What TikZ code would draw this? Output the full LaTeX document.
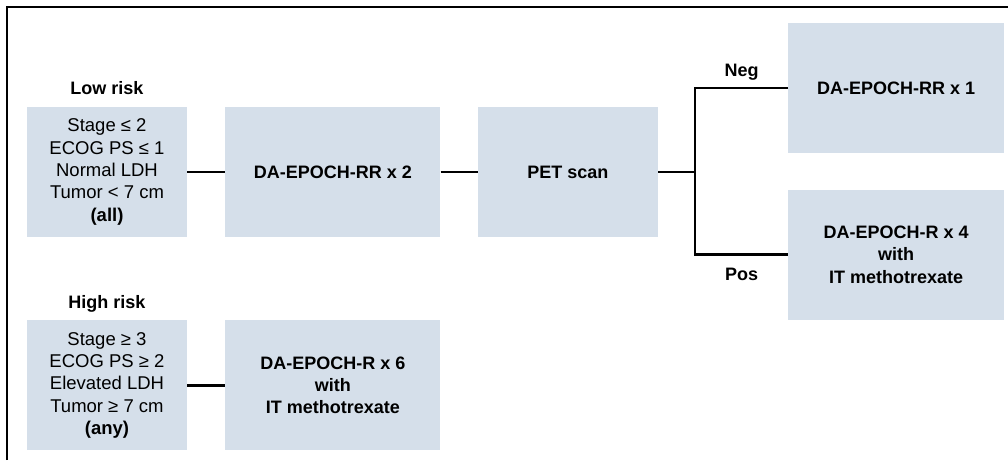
\documentclass[tikz,border=0pt]{standalone}
\usepackage{fontspec}
\setmainfont{Liberation Sans}
\usetikzlibrary{positioning}
\definecolor{boxfill}{RGB}{213,223,234}
\tikzset{auto, node distance=1cm, font=\fontsize{18.5}{22.3}\selectfont}
\tikzstyle{block} = [fill=boxfill, rectangle, minimum height=130pt, minimum width=160pt, text centered, align=center, inner sep=0pt]
\tikzstyle{treat} = [block, minimum width=215pt, font=\fontsize{18}{22.3}\selectfont\bfseries]
\tikzstyle{risk} = [font=\fontsize{18}{22.3}\selectfont\bfseries, inner sep=0pt, text depth=0pt]
\tikzstyle{link} = [line width=2.6pt]

\begin{document}
\begin{tikzpicture}
        \useasboundingbox (0,0) rectangle (1008pt,-460pt);
        \draw [line width=1.5pt] (7pt,-460pt) -- (7pt,-7pt) -- (1008pt,-7pt);

        \node [block] (low) at (107pt,-172pt) {Stage ≤ 2\\ECOG PS ≤ 1\\Normal LDH\\Tumor < 7 cm\\\textbf{(all)}};
        \node [treat, right=38pt of low] (rr2) {DA-EPOCH-RR x 2};
        \node [treat, minimum width=180pt, right=37pt of rr2] (pet) {PET scan};
        \coordinate [right=37pt of pet] (split);
        \node [treat, minimum width=216pt, right=93pt of split, yshift=84pt] (neg) {DA-EPOCH-RR x 1};
        \node [treat, minimum width=216pt, right=93pt of split, yshift=-82.5pt] (pos) {DA-EPOCH-R x 4\\with\\IT methotrexate};
        \node [block, below=83pt of low] (high) {Stage ≥ 3\\ECOG PS ≥ 2\\Elevated LDH\\Tumor ≥ 7 cm\\\textbf{(any)}};
        \node [treat, right=38pt of high] (r6) {DA-EPOCH-R x 6\\with\\IT methotrexate};
        \node [risk, above=12pt of low] (lowrisk) {Low risk};
        \node [risk, above=12pt of high] (highrisk) {High risk};

        \draw [link] (low) -- (rr2);
        \draw [link] (rr2) -- (pet);
        \draw [link] (pet) -- (split);
        \draw [link] (neg) -| node [risk, pos=0.25, above=10pt] {Neg} (split);
        \draw [link] (split) |- node [risk, pos=0.75, below=12pt] {Pos} (pos);
        \draw [link] (high) -- (r6);
    \end{tikzpicture}
\end{document}
